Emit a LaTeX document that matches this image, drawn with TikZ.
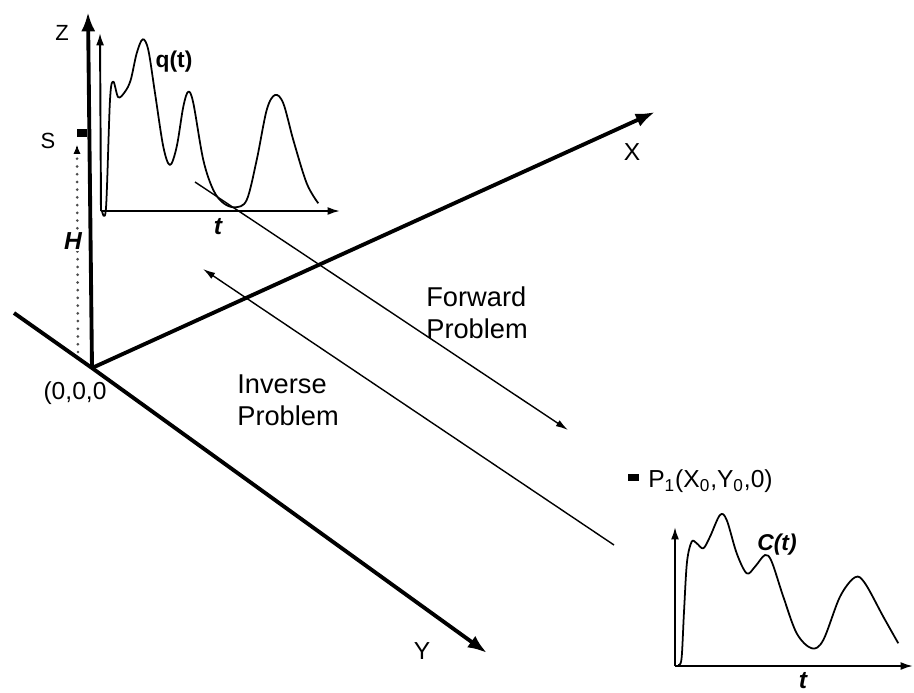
\documentclass[tikz,border=0pt]{standalone}
\usepackage{fontspec}
\setmainfont{Liberation Sans}
\usetikzlibrary{arrows.meta,positioning}

\begin{document}
\begin{tikzpicture}[
  x=0.02cm,
  y=-0.02cm,
  >=Latex,
  every node/.style={font=\fontsize{14}{16}\selectfont},
  axis line/.style={line width=2.2pt,-{Latex[length=11pt,width=8pt]}},
  plot axis/.style={line width=1.1pt,-{Latex[length=7pt,width=4.5pt]}},
  signal curve/.style={line width=1pt,line join=round},
  height line/.style={line width=1.7pt,line cap=round,draw=black!70,dash pattern=on 0pt off 4.4pt},
  problem arrow/.style={line width=0.8pt,-{Latex[length=7pt,width=4pt]}},
  problem label/.style={align=left,inner sep=0pt,font=\fontsize{15.5}{18.7}\selectfont},
  marker box/.style={rectangle,fill=black,inner sep=0pt,minimum width=6pt,minimum height=4.5pt},
]
\useasboundingbox (0,0) rectangle (914,693);
\coordinate (O) at (92,368);
\coordinate (Ztip) at (88,12);
\coordinate (Xtip) at (655,112);
\coordinate (Yend) at (14,313);
\coordinate (Ytip) at (487,653);
\draw[axis line] (O) -- (Ztip);
\draw[axis line] (O) -- (Xtip);
\draw[axis line] (Yend) -- (O) -- (Ytip);
\node[font=\fontsize{12.5}{14}\selectfont] (zlab) at (62,33) {Z};
\node (xlab) at (632,152) {X};
\node (ylab) at (422,651) {Y};
\node (olab) at (75,393) {(0,0,0};
\node[font=\fontsize{12.5}{14}\selectfont] (slab) at (48,141) {S};
\node[marker box] (src) at (82,133) {};
\coordinate (Hbot) at (78,352);
\coordinate (Htop) at (77,145);
\draw[height line] (Hbot) -- ([yshift=-6pt]Htop);
\draw[-{Latex[length=5pt,width=4pt]},line width=0.6pt] ([yshift=-1pt]Htop) -- (Htop);
\node[fill=white,inner sep=1pt,font=\fontsize{14}{16}\selectfont\bfseries\itshape] (hlab) at (73,241) {H};
\coordinate (qO) at (101,211);
\coordinate (qZ) at (100,33);
\coordinate (qT) at (340,211);
\draw[plot axis] (qO) -- (qZ);
\draw[plot axis] (qO) -- (qT);
\draw[signal curve] plot[smooth,tension=0.55] coordinates {(102,211) (106,208) (110,100) (113.3,81.7) (118.3,97.3) (125,91.7) (130.7,80) (136.7,53.3) (142.7,39.3) (148.3,50) (155,93) (163.3,146.7) (170,165) (176.7,146.7) (183.3,106.7) (188.3,91.7) (193.3,103) (203.3,160) (213.3,190) (223.3,203) (235,207.3) (246.7,200) (256.7,160) (266.7,110) (275,95) (283.3,103.3) (293.3,140) (306.7,183.3) (318.3,203.3)};
\node[font=\fontsize{13}{15}\selectfont\bfseries] (qlab) at (174,62) {q(t)};
\node[font=\fontsize{14}{16}\selectfont\bfseries\itshape] (qtlab) at (218,227) {t};
\coordinate (cO) at (675,666);
\coordinate (cZ) at (675,527);
\coordinate (cT) at (913,666);
\draw[plot axis] (cO) -- (cZ);
\draw[plot axis] (cO) -- (cT);
\draw[signal curve] plot[smooth,tension=0.55] coordinates {(678,665) (681.5,659) (684,612) (687,562) (691.7,541.7) (696.7,543.3) (703.3,548.3) (710,536.7) (720,515) (726.7,520) (736.7,553.3) (746.7,573.3) (755,566.7) (765,555) (771.7,561.7) (783.3,596.7) (796.7,633.3) (811.7,648.3) (823.3,640) (840,596.7) (855,577.3) (865,583.3) (883.3,616.7) (898.3,643.3)};
\node[font=\fontsize{13}{15}\selectfont\bfseries\itshape] (clab) at (777,545) {C(t)};
\node[inner sep=0pt,font=\fontsize{14}{16}\selectfont\bfseries\itshape] (ctlab) at (803,681) {t};
\node[anchor=east,inner sep=0pt] (plab) at (773,481) {P\textsubscript{1}(X\textsubscript{0},Y\textsubscript{0},0)};
\node[marker box,left=5pt of plab.west,anchor=east,yshift=2pt] (rcv) {};
\coordinate (fwdA) at (195,182);
\coordinate (fwdB) at (568,430);
\coordinate (invA) at (614,545);
\coordinate (invB) at (203,269);
\draw[problem arrow] (fwdA) -- (fwdB);
\draw[problem arrow] (invA) -- (invB);
\node[problem label,anchor=north west] (fwdlab) at (426,286) {Forward\\Problem};
\node[problem label,anchor=north west] (invlab) at (237,374) {Inverse\\Problem};
\end{tikzpicture}
\end{document}
